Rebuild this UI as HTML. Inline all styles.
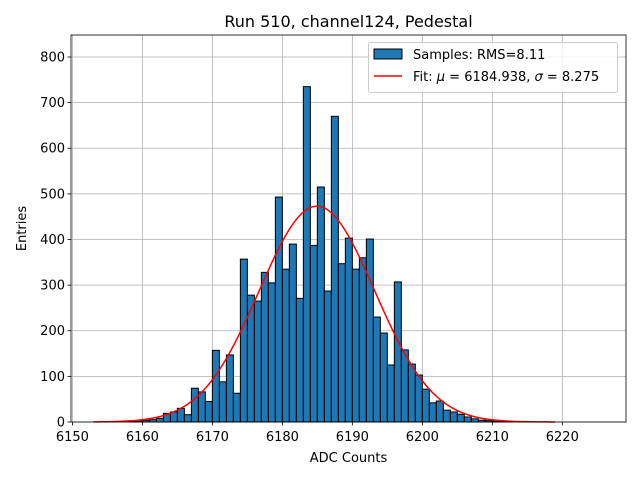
<!DOCTYPE html>
<html><head><meta charset="utf-8"><style>
body{margin:0;background:#fff;font-family:"Liberation Sans","DejaVu Sans",sans-serif}
svg text{font-family:"DejaVu Sans","Liberation Sans",sans-serif}
</style></head><body>
<svg id="chart" width="640" height="480" xmlns="http://www.w3.org/2000/svg">
<rect width="640" height="480" fill="#fff"/>
<g id="grid"></g><g id="bars"></g><g id="curve"></g><g id="axes"></g>
</svg>
<script>
const binStarts=[6158,6159,6160,6161,6162,6163,6164,6165,6166,6167,6168,6169,6170,6171,6172,6173,6174,6175,6176,6177,6178,6179,6180,6181,6182,6183,6184,6185,6186,6187,6188,6189,6190,6191,6192,6193,6194,6195,6196,6197,6198,6199,6200,6201,6202,6203,6204,6205,6206,6207,6208,6209,6210,6211,6212];
const counts=[1,2,4,5,8,19,22,30,16,74,66,45,157,88,147,63,357,278,265,328,305,493,335,390,271,735,387,515,287,670,347,403,335,360,401,230,195,125,307,158,127,103,72,42,46,26,22,17,11,7,4,3,2,1,1];
const xTicks=[6150,6160,6170,6180,6190,6200,6210,6220];
const yTicks=[0,100,200,300,400,500,600,700,800];
const fitMu=6184.938, fitSigma=8.275, fitAmp=473, fitRange=[6153,6219];
const L=71,R=626,T=35,B=422,xmin=6149.8,xmax=6229.1,ymax=848.2;
const X=v=>L+(v-xmin)/(xmax-xmin)*(R-L);
const Y=v=>B-v/ymax*(B-T);
const NS="http://www.w3.org/2000/svg";
function mk(tag,attrs,parent,txt){const e=document.createElementNS(NS,tag);for(const k in attrs)e.setAttribute(k,attrs[k]);if(txt!==undefined)e.textContent=txt;parent.appendChild(e);return e;}
const grid=document.getElementById('grid'),bars=document.getElementById('bars'),curve=document.getElementById('curve'),axes=document.getElementById('axes');
xTicks.forEach(t=>{const l=mk('line',{x1:X(t),x2:X(t),y1:T,y2:B,stroke:'#b0b0b0','stroke-width':0.8},grid);

});
yTicks.forEach(t=>{const l=mk('line',{x1:L,x2:R,y1:Y(t),y2:Y(t),stroke:'#b0b0b0','stroke-width':0.8},grid);

});
binStarts.forEach((b,i)=>{const r=mk('rect',{x:X(b),y:Y(counts[i]),width:X(b+1)-X(b),height:B-Y(counts[i]),fill:'#1f77b4',stroke:'#000','stroke-width':1},bars);

});
let d='';for(let i=0;i<=300;i++){const x=fitRange[0]+(fitRange[1]-fitRange[0])*i/300;const y=fitAmp*Math.exp(-0.5*((x-fitMu)/fitSigma)**2);d+=(i?'L':'M')+X(x).toFixed(2)+','+Y(y).toFixed(2);}
const p=mk('path',{d:d,fill:'none',stroke:'#ff0000','stroke-width':1.5},curve);


const fr=mk('rect',{x:L,y:T,width:R-L,height:B-T,fill:'none',stroke:'#000','stroke-width':0.8},axes);


xTicks.forEach(t=>{mk('line',{x1:X(t),x2:X(t),y1:B,y2:B+3.5,stroke:'#000','stroke-width':0.8},axes);
const tx=mk('text',{x:X(t),y:B+19,'text-anchor':'middle','font-size':13},axes,t);

});
yTicks.forEach(t=>{mk('line',{x1:L-3.5,x2:L,y1:Y(t),y2:Y(t),stroke:'#000','stroke-width':0.8},axes);
const tx=mk('text',{x:L-6,y:Y(t)+4.5,'text-anchor':'end','font-size':13},axes,t);

});
</script>
<svg style="position:absolute;left:0;top:0" width="640" height="480" xmlns="http://www.w3.org/2000/svg">
<text x="348.5" y="27" text-anchor="middle" font-size="16">Run 510, channel124, Pedestal</text>
<text x="348.5" y="462" text-anchor="middle" font-size="13">ADC Counts</text>
<text transform="translate(26,228.5) rotate(-90)" text-anchor="middle" font-size="13">Entries</text>
<g>
<rect x="368.5" y="42.5" width="249" height="50" rx="2" fill="#fff" fill-opacity="0.8" stroke="#ccc"/>
<rect x="374" y="49" width="28" height="10" fill="#1f77b4" stroke="#000"/>
<text x="413" y="59" font-size="13">Samples: RMS=8.11</text>
<line x1="374" x2="402" y1="76" y2="76" stroke="#f00" stroke-width="1.5"/>
<text x="413" y="81" font-size="13">Fit: <tspan font-style="italic">μ</tspan> = 6184.938, <tspan font-style="italic">σ</tspan> = 8.275</text>
</g>
</svg>
</body></html>
